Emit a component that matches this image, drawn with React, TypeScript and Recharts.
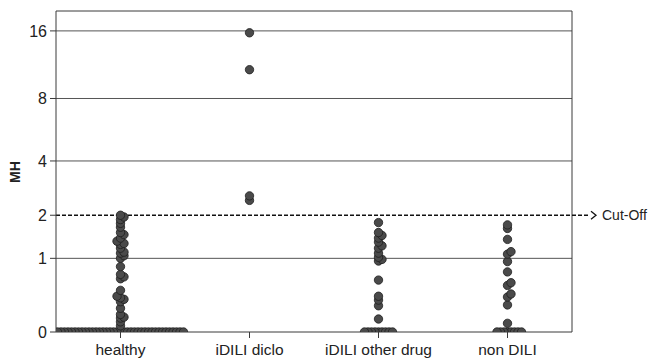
import React from 'react';
import { ScatterChart, Scatter, XAxis, YAxis, ReferenceLine, Label } from 'recharts';

const categories = ['healthy', 'iDILI diclo', 'iDILI other drug', 'non DILI'];

const healthyValues = [
  0, 0, 0, 0, 0, 0, 0, 0, 0, 0, 0, 0, 0, 0, 0, 0, 0, 0, 0, 0, 0, 0, 0, 0, 0, 0, 0, 0, 0, 0, 0, 0, 0, 0, 0, 0, 0,
  0.06, 0.1, 0.14, 0.15, 0.18, 0.25, 0.33, 0.36, 0.38, 0.4, 0.48, 0.65, 0.68, 0.72, 0.85,
  1.0, 1.05, 1.1, 1.12, 1.2, 1.28, 1.3, 1.35, 1.42, 1.5, 1.55, 1.68, 1.78, 1.88, 1.95, 2.0,
];
const dicloValues = [2.45, 2.6, 10.8, 15.7];
const otherDrugValues = [
  0, 0, 0, 0, 0, 0, 0, 0, 0,
  0.13, 0.28, 0.35, 0.4, 0.63, 0.95, 0.98, 1.02, 1.1, 1.2, 1.25, 1.33, 1.42, 1.48, 1.55, 1.8,
];
const nonDiliValues = [
  0, 0, 0, 0, 0, 0, 0, 0,
  0.085, 0.29, 0.39, 0.43, 0.55, 0.59, 0.76, 0.94, 1.08, 1.13, 1.39, 1.65, 1.74,
];
const seriesValues = [healthyValues, dicloValues, otherDrugValues, nonDiliValues];

const yTickLabels = [0, 1, 2, 4, 8, 16];
const gridValues = [1, 4, 8, 16];
const cutOffValue = 2;
const yTopValue = 19.5;

// chart geometry
const W = 648;
const H = 363;
const M = { top: 11, right: 76, bottom: 0, left: 0 };
const YAXIS_W = 56;
const XAXIS_H = 31;
const plotW = W - M.left - M.right - YAXIS_W;
const plotH = H - M.top - M.bottom - XAXIS_H;

const tf = (v: number) => Math.log2(v + 1);
const yMax = tf(yTopValue);
const pxPerX = plotW / categories.length;
const pxPerY = plotH / yMax;

// simple beeswarm layout (dodge) computed from the values
const STEP = 3.5;
const MIN_D = 3.5;
function swarm(values: number[], catIndex: number) {
  const placed: { px: number; py: number }[] = [];
  const out: { x: number; y: number; v: number }[] = [];
  const sorted = [...values].sort((a, b) => a - b);
  for (const v of sorted) {
    const py = tf(v) * pxPerY;
    let off = 0;
    for (let k = 0; k < 200; k++) {
      const cand = k === 0 ? 0 : (k % 2 === 1 ? 1 : -1) * Math.ceil(k / 2) * STEP;
      const ok = placed.every((p) => Math.hypot(p.px - cand, p.py - py) >= MIN_D - 1e-6);
      if (ok) {
        off = cand;
        break;
      }
    }
    placed.push({ px: off, py });
    out.push({ x: catIndex + 0.5 + off / pxPerX, y: tf(v), v });
  }
  return out;
}

const data = seriesValues.flatMap((vals, i) => swarm(vals, i));

const AXIS = '#3a3a3a';
const FONT = 'Arial, "Liberation Sans", sans-serif';

const Dot = (props: any) => {
  const { cx, cy } = props;
  if (cx == null || cy == null) return null;
  return <circle cx={cx} cy={cy} r={4.2} fill="#4a4a4a" stroke="#1e1e1e" strokeWidth={0.8} />;
};

const CutOffShape = (props: any) => {
  const { x1, y1, x2, y2 } = props;
  if (x1 == null) return null;
  return (
    <g>
      <line x1={x1} y1={y1} x2={x2} y2={y2} stroke="#111" strokeWidth={1.3} strokeDasharray="4 2" />
      <polyline
        points={`${x2 + 1},${y2 - 4} ${x2 + 6},${y2} ${x2 + 1},${y2 + 4}`}
        fill="none"
        stroke="#111"
        strokeWidth={1.3}
      />
      <text x={x2 + 12} y={y2 + 5} fontSize={14} fontFamily={FONT} fill="#222">
        Cut-Off
      </text>
    </g>
  );
};

export default function App() {
  const cutY = tf(cutOffValue);
  const cutEndX = categories.length + 18 / pxPerX;
  return (
    <div style={{ position: 'absolute', left: 0, top: 0, width: W, height: H, background: '#fff' }}>
      <ScatterChart width={W} height={H} margin={M}>
        <XAxis
          type="number"
          dataKey="x"
          domain={[0, categories.length]}
          ticks={categories.map((_, i) => i + 0.5)}
          tickFormatter={(t: number) => categories[Math.floor(t)]}
          height={XAXIS_H}
          tickSize={6}
          tickMargin={6}
          stroke={AXIS}
          tick={{ fill: '#222', fontSize: 15.5, fontFamily: FONT }}
          allowDataOverflow
          interval={0}
        />
        <YAxis
          type="number"
          dataKey="y"
          domain={[0, yMax]}
          ticks={yTickLabels.map(tf)}
          tickFormatter={(t: number) => String(Math.round(Math.pow(2, t) - 1))}
          width={YAXIS_W}
          tickSize={6}
          tickMargin={3}
          stroke={AXIS}
          tick={{ fill: '#222', fontSize: 16, fontFamily: FONT }}
          allowDataOverflow
          interval={0}
        >
          <Label
            content={() => (
              <text
                x={20}
                y={172}
                transform="rotate(-90 20 172)"
                textAnchor="middle"
                fontSize={14}
                fontWeight="bold"
                fontFamily={FONT}
                fill="#222"
              >
                MH
              </text>
            )}
          />
        </YAxis>
        {gridValues.map((g) => (
          <ReferenceLine key={g} y={tf(g)} stroke="#555" strokeWidth={1} />
        ))}
        <ReferenceLine y={yMax} stroke={AXIS} strokeWidth={1} />
        <ReferenceLine x={categories.length} stroke={AXIS} strokeWidth={1} />
        <ReferenceLine
          segment={[
            { x: 0, y: cutY },
            { x: cutEndX, y: cutY },
          ]}
          ifOverflow="visible"
          shape={CutOffShape}
        />
        <Scatter data={data} shape={Dot} isAnimationActive={false} />
      </ScatterChart>
    </div>
  );
}
